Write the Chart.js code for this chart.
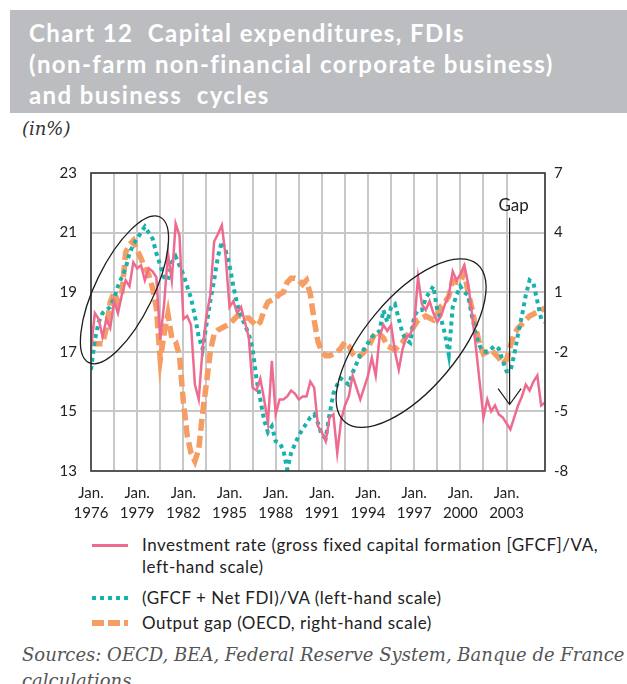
<!DOCTYPE html>
<html>
<head>
<meta charset="utf-8">
<script src="https://cdn.jsdelivr.net/npm/chart.js@4.4.0/dist/chart.umd.min.js"></script>
<style>
  html, body { margin: 0; padding: 0; background: #fff; }
  body { width: 627px; height: 684px; position: relative; overflow: hidden; font-family: Lato, sans-serif; color: #222; }
  #banner { position: absolute; left: 10px; top: 10px; width: 617px; height: 103px; background: #bcbdc0; }
  #title { position: absolute; left: 29px; top: 17px; color: #fff; font-weight: bold; font-size: 24px; letter-spacing: 1.4px; line-height: 31px; white-space: pre; }
  #unit { position: absolute; left: 22px; top: 118px; font-family: 'DejaVu Serif', serif; font-style: italic; font-size: 18px; color: #333; }
  #wrap { position: absolute; left: 0; top: 150px; width: 627px; height: 380px; }
  .sample { position: absolute; left: 92px; width: 36px; }
  .ltext { position: absolute; left: 142px; font-size: 17px; letter-spacing: 0.5px; line-height: 22px; white-space: pre; }
  #src { position: absolute; left: 22px; top: 642px; font-family: 'DejaVu Serif', serif; font-style: italic; font-size: 18px; line-height: 26px; color: #555; white-space: pre; }
</style>
</head>
<body>
<div id="banner"></div>
<div id="title">Chart 12  Capital expenditures, FDIs
(non-farm non-financial corporate business)
and business  cycles</div>
<div id="unit">(in%)</div>
<div id="wrap"><canvas id="chart" width="627" height="380"></canvas></div>

<div class="sample" style="top:544px;height:3px;background:#ee6b8f;"></div>
<div class="ltext" style="top:534px;">Investment rate (gross fixed capital formation [GFCF]/VA,
left-hand scale)</div>
<div class="sample" style="top:596px;height:4px;background:repeating-linear-gradient(90deg,#16b2ad 0 4px,transparent 4px 8px);"></div>
<div class="ltext" style="top:587px;">(GFCF + Net FDI)/VA (left-hand scale)</div>
<div class="sample" style="top:620px;height:6px;background:repeating-linear-gradient(90deg,#f59d63 0 12px,transparent 12px 16px);"></div>
<div class="ltext" style="top:612px;">Output gap (OECD, right-hand scale)</div>
<div id="src">Sources: OECD, BEA, Federal Reserve System, Banque de France
calculations</div>

<script>
// Quarterly data, 1976 Q1 onwards
const startYear = 1976;
const tickYears = ['1976', '1979', '1982', '1985', '1988', '1991', '1994', '1997', '2000', '2003'];

// Investment rate GFCF/VA (left scale, %)
const investmentRate = [
    17.1, 18.3, 18.1, 17.5, 18.1, 17.8, 18.7, 18.3, 18.9, 19.4,
    19.2, 20.0, 19.8, 19.9, 19.4, 19.8, 19.7, 19.5, 17.4, 18.6,
    20.3, 19.4, 21.3, 20.9, 18.1, 18.2, 17.9, 15.9, 15.4, 17.1,
    18.2, 18.9, 20.7, 20.95, 21.25, 20.2, 18.5, 18.7, 18.3, 18.5,
    18.0, 17.5, 15.8, 15.7, 16.1, 15.4, 14.6, 16.7, 14.9, 15.4,
    15.4, 15.5, 15.7, 15.6, 15.4, 15.5, 15.5, 16.0, 15.8, 14.5,
    14.3, 14.0, 14.8, 14.9, 13.6, 14.7, 15.2, 15.5, 16.2, 15.8,
    15.4, 15.8, 16.2, 16.8, 16.2, 17.5, 17.9, 17.7, 17.9, 17.0,
    16.4, 17.1, 17.5, 17.6, 17.9, 19.5, 18.6, 18.4, 18.7, 18.3,
    18.0, 18.2, 18.6, 18.9, 19.7, 19.4, 19.6, 19.9, 19.3, 18.3,
    17.2, 16.0, 14.8, 15.4, 15.0, 15.2, 14.9, 14.8, 14.6, 14.4,
    14.8, 15.2, 15.5, 15.9, 15.7, 16.0, 16.2, 15.2, 15.3
];

// (GFCF + Net FDI)/VA (left scale, %)
const gfcfFdi = [
    16.4, 17.4, 18.0, 18.3, 18.4, 18.5, 18.8, 19.2, 19.5, 19.8,
    20.3, 20.6, 20.8, 21.0, 21.2, 21.0, 20.8, 20.3, 19.9, 19.5,
    19.4, 20.0, 20.2, 19.9, 19.6, 19.2, 18.8, 18.2, 17.5, 17.1,
    17.9, 18.7, 19.4, 20.2, 20.7, 20.4, 19.9, 19.2, 18.6, 18.2,
    17.9, 17.6, 17.1, 16.1, 15.4, 14.7, 14.3, 14.5, 14.0, 13.95,
    13.7, 13.05, 13.6, 13.9, 14.2, 14.4, 14.6, 14.8, 14.9, 14.6,
    14.2, 14.1, 14.9, 15.6, 15.9, 16.1, 16.0, 15.9, 16.3, 16.6,
    16.9, 17.1, 17.3, 17.5, 17.6, 17.7, 18.4, 18.0, 18.5, 18.6,
    18.1, 17.6, 17.4, 17.3, 18.2, 18.4, 18.4, 18.8, 19.0, 19.2,
    18.4, 18.1, 17.6, 16.9, 18.5, 18.9, 19.2, 19.0, 18.9, 18.2,
    17.6, 17.2, 17.0, 17.0, 17.1, 17.2, 17.1, 16.7, 16.35, 16.35,
    16.9, 17.6, 18.2, 18.9, 19.4, 19.3, 18.7, 18.1, 18.0
];

// Output gap, OECD (right scale, %)
const outputGap = [
    -1.5, -1.6, -1.6, -1.6, -0.8, 0.5, 1.0, 0.5, 0.9, 3.0,
    3.4, 3.6, 3.1, 2.7, 2.2, 1.9, 1.2, 0.2, -2.4, -1.1,
    -0.1, -1.3, -1.5, -2.2, -4.5, -6.2, -7.1, -7.5, -6.9, -5.1,
    -3.6, -2.0, -1.1, -0.9, -0.8, -0.7, -0.6, -0.4, -0.2, -0.2,
    -0.3, -0.3, -0.5, -0.7, -0.5, 0.1, 0.5, 0.6, 0.7, 0.9,
    1.0, 1.5, 1.7, 1.7, 1.6, 1.4, 1.6, 0.9, -0.4, -1.5,
    -2.0, -2.2, -2.2, -2.1, -2.0, -1.8, -1.5, -1.7, -2.1, -2.3,
    -2.2, -2.0, -1.8, -1.4, -1.0, -1.1, -1.3, -1.7, -1.8, -1.9,
    -1.7, -1.5, -1.2, -1.0, -0.7, -0.4, -0.3, -0.2, -0.3, -0.4,
    -0.1, 0.3, 0.5, 0.8, 1.6, 1.5, 1.5, 2.0, 1.0, 0.2,
    -0.8, -1.6, -2.1, -2.0, -1.9, -2.1, -2.3, -2.6, -2.4, -1.7,
    -1.1, -0.8, -0.6, -0.4, -0.2, -0.1, 0.0, 0.1, 0.2
];

// Annotations (position in quarter index / left-scale value, size in px)
const ellipses = [
    { x: 8.7, y: 19.08, rx: 81, ry: 29, rot: -64 },
    { x: 83.2, y: 17.29, rx: 103, ry: 46, rot: -50 }
];
const gapArrow = { x: 108.8, top: 21.5, tip: 15.23, label: 'Gap' };

const toPoints = arr => arr.map((v, i) => ({ x: i, y: v }));

// Frame, ellipses and the "Gap" arrow
const overlayPlugin = {
    id: 'overlay',
    afterDatasetsDraw(chart) {
        const { ctx, chartArea: a, scales } = chart;
        ctx.save();
        ctx.strokeStyle = '#3a3a3a';
        ctx.lineWidth = 1.6;
        ctx.strokeRect(a.left, a.top, a.right - a.left, a.bottom - a.top);

        ctx.strokeStyle = '#1e1e1e';
        ctx.lineWidth = 1.3;
        ellipses.forEach(e => {
            ctx.beginPath();
            ctx.ellipse(scales.x.getPixelForValue(e.x), scales.y.getPixelForValue(e.y),
                e.rx, e.ry, e.rot * Math.PI / 180, 0, Math.PI * 2);
            ctx.stroke();
        });

        const gx = scales.x.getPixelForValue(gapArrow.x);
        const gTop = scales.y.getPixelForValue(gapArrow.top);
        const gTip = scales.y.getPixelForValue(gapArrow.tip);
        ctx.lineWidth = 1.2;
        ctx.beginPath();
        ctx.moveTo(gx, gTop);
        ctx.lineTo(gx, gTip);
        ctx.moveTo(gx - 11.5, gTip - 16);
        ctx.lineTo(gx, gTip);
        ctx.lineTo(gx + 11.5, gTip - 16);
        ctx.stroke();

        ctx.fillStyle = '#222';
        ctx.font = '17px Lato';
        ctx.textAlign = 'center';
        ctx.textBaseline = 'alphabetic';
        ctx.fillText(gapArrow.label, gx + 4, gTop - 7);
        ctx.restore();
    }
};

const ctx = document.getElementById('chart').getContext('2d');
new Chart(ctx, {
    type: 'line',
    data: {
        datasets: [
            {
                label: 'Investment rate',
                data: toPoints(investmentRate),
                yAxisID: 'y',
                borderColor: '#ee6b8f',
                borderWidth: 2.5,
                pointRadius: 0,
                tension: 0
            },
            {
                label: '(GFCF + Net FDI)/VA',
                data: toPoints(gfcfFdi),
                yAxisID: 'y',
                borderColor: '#16b2ad',
                borderWidth: 4,
                borderDash: [4, 4],
                borderCapStyle: 'butt',
                pointRadius: 0,
                tension: 0
            },
            {
                label: 'Output gap',
                data: toPoints(outputGap),
                yAxisID: 'y2',
                borderColor: '#f59d63',
                borderWidth: 5.5,
                borderDash: [12, 5],
                borderCapStyle: 'butt',
                pointRadius: 0,
                tension: 0
            }
        ]
    },
    options: {
        responsive: false,
        animation: false,
        devicePixelRatio: 1,
        layout: { padding: { top: 20, left: 0, right: 0, bottom: 0 } },
        plugins: {
            legend: { display: false },
            tooltip: { enabled: false }
        },
        scales: {
            x: {
                type: 'linear',
                min: 0,
                max: investmentRate.length - 1,
                border: { display: false },
                grid: { color: '#c8c8c8', lineWidth: 2, drawTicks: false },
                ticks: {
                    stepSize: 6,
                    autoSkip: false,
                    maxRotation: 0,
                    padding: 12,
                    color: '#222',
                    font: { family: 'Lato', size: 15, lineHeight: 1.35 },
                    callback: v => (v % 12 === 0 && tickYears[v / 12]) ? ['Jan.', tickYears[v / 12]] : ''
                },
                afterFit: s => { s.height = 59; }
            },
            y: {
                position: 'left',
                min: 13,
                max: 23,
                border: { display: false },
                grid: { color: '#c8c8c8', lineWidth: 2, drawTicks: false },
                ticks: { stepSize: 2, padding: 14, color: '#222', font: { family: 'Lato', size: 15 } },
                afterFit: s => { s.width = 91; }
            },
            y2: {
                position: 'right',
                min: -8,
                max: 7,
                border: { display: false },
                grid: { display: false, drawTicks: false },
                ticks: { stepSize: 3, padding: 9, color: '#222', font: { family: 'Lato', size: 15 } },
                afterFit: s => { s.width = 82; }
            }
        }
    },
    plugins: [overlayPlugin]
});
</script>
</body>
</html>
